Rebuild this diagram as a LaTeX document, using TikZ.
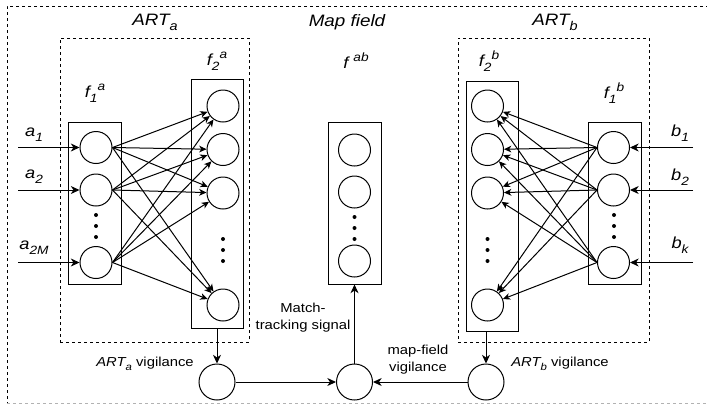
\documentclass[tikz,border=0pt]{standalone}
\usepackage{fontspec}
\setmainfont{Liberation Sans}[FakeStretch=1.14]
\usetikzlibrary{arrows.meta,fit}
% lowered / raised indices with an explicit size
\newcommand\lowidx[2]{\raisebox{-0.3em}{\fontsize{#1}{#1}\selectfont #2}}
\newcommand\highidx[2]{\raisebox{0.45em}{\fontsize{#1}{#1}\selectfont #2}}
\begin{document}
\begin{tikzpicture}[x=0.75pt,y=-0.75pt,
  line width=0.75pt,
  neuron/.style={circle,draw,inner sep=0pt,minimum size=24pt},
  gate/.style={circle,draw,inner sep=0pt,minimum size=27pt},
  layerbox/.style={draw,rectangle,inner sep=0pt},
  modbox/.style={draw,rectangle,inner sep=0pt,dash pattern=on 2.25pt off 2.25pt,line width=0.6pt},
  frameline/.style={dash pattern=on 2.25pt off 2.25pt,line width=0.6pt},
  dotmark/.style={circle,fill,inner sep=0pt,minimum size=3pt},
  link/.style={-{Stealth[length=5.5pt,width=5pt,inset=1.6pt]}},
  feed/.style={-{Stealth[length=6.5pt,width=6pt,inset=2pt]}},
  title/.style={font=\fontsize{12.4}{14}\selectfont\itshape},
  sym/.style={font=\fontsize{12}{14}\selectfont\itshape},
  note/.style={font=\fontsize{9.75}{12.75}\selectfont,align=center},
]
\useasboundingbox (0,0) rectangle (707,405);

% outer frame (open on the right)
\coordinate (otr) at (715,6);
\coordinate (otl) at (7,6);
\coordinate (obl) at (7,403);
\coordinate (obr) at (715,403);
\draw[frameline] (otr) -- (otl) -- (obl);
\draw[frameline,gray!60] (obl) -- (obr);

% module boxes
\node[modbox,fit={(60,38) (249,342)}] (arta) {};
\node[modbox,fit={(458,38) (649,342)}] (artb) {};

% layer boxes
\node[layerbox,fit={(68,122) (121,284)}] (f1abox) {};
\node[layerbox,fit={(191,79) (243,328)}] (f2abox) {};
\node[layerbox,fit={(328,122) (381,284)}] (fabbox) {};
\node[layerbox,fit={(466,81) (518,331)}] (f2bbox) {};
\node[layerbox,fit={(588,122) (641,284)}] (f1bbox) {};

% ART_a neurons
\node[neuron] (fa1) at (96,147.5) {};
\node[neuron] (fa2) at (96,190) {};
\node[neuron] (fa3) at (96,262.5) {};
\node[dotmark] (fad1) at (96,215) {};
\node[dotmark] (fad2) at (96,226) {};
\node[dotmark] (fad3) at (96,237) {};
\node[neuron] (ga1) at (223,106) {};
\node[neuron] (ga2) at (223,149.5) {};
\node[neuron] (ga3) at (223,193) {};
\node[neuron] (ga4) at (223,305) {};
\node[dotmark] (gad1) at (223,239) {};
\node[dotmark] (gad2) at (223,250) {};
\node[dotmark] (gad3) at (223,261) {};

% map field neurons
\node[neuron] (m1) at (354.5,150) {};
\node[neuron] (m2) at (354.5,192) {};
\node[neuron] (m3) at (354.5,261) {};
\node[dotmark] (md1) at (354.5,217) {};
\node[dotmark] (md2) at (354.5,228) {};
\node[dotmark] (md3) at (354.5,239) {};

% ART_b neurons
\node[neuron] (gb1) at (487.5,106) {};
\node[neuron] (gb2) at (487.5,149.5) {};
\node[neuron] (gb3) at (487.5,193) {};
\node[neuron] (gb4) at (487.5,305) {};
\node[dotmark] (gbd1) at (487.5,239) {};
\node[dotmark] (gbd2) at (487.5,250) {};
\node[dotmark] (gbd3) at (487.5,261) {};
\node[neuron] (fb1) at (613.5,147.5) {};
\node[neuron] (fb2) at (613.5,190) {};
\node[neuron] (fb3) at (613.5,262.5) {};
\node[dotmark] (fbd1) at (614,215) {};
\node[dotmark] (fbd2) at (614,226) {};
\node[dotmark] (fbd3) at (614,237) {};

% vigilance units
\node[gate] (va) at (217,382) {};
\node[gate] (vm) at (354.5,382) {};
\node[gate] (vb) at (486,382) {};

% full connections F1 -> F2
\foreach \i in {1,2,3}
  \foreach \j in {1,2,3,4} {
    \draw[link] (fa\i.east) -- (ga\j);
    \draw[link] (fb\i.west) -- (gb\j);
  }

% inputs
\coordinate (ina1) at (18,147.5);
\coordinate (ina2) at (18,190);
\coordinate (ina3) at (18,262.5);
\coordinate (inb1) at (693,147.5);
\coordinate (inb2) at (693,190);
\coordinate (inb3) at (693,262.5);
\draw[feed] (ina1) -- (fa1.west);
\draw[feed] (ina2) -- (fa2.west);
\draw[feed] (ina3) -- (fa3.west);
\draw[feed] (inb1) -- (fb1.east);
\draw[feed] (inb2) -- (fb2.east);
\draw[feed] (inb3) -- (fb3.east);

% vigilance / match tracking
\draw[feed] (f2abox.south) -- (va.north);
\draw[feed] (vb.north |- f2bbox.south) -- (vb.north);
\draw[feed] (va.east) -- (vm.west);
\draw[feed] (vb.west) -- (vm.east);
\draw[feed] (vm.north) -- (vm.north |- fabbox.south);

% labels
\node[title] (tarta) at (155,22) {ART\lowidx{9.5}{a}};
\node[title] (tmap) at (347,22) {Map field};
\node[title] (tartb) at (555,22) {ART\lowidx{9.5}{b}};
\node[sym] (lf1a) at (95,93) {f\lowidx{9}{1}\highidx{9}{a}};
\node[sym] (lf2a) at (217,61) {f\lowidx{9}{2}\highidx{9}{a}};
\node[sym] (lfab) at (356,61) {f \highidx{9}{ab}};
\node[sym] (lf2b) at (489,61) {f\lowidx{9}{2}\highidx{9}{b}};
\node[sym] (lf1b) at (614,93) {f\lowidx{9}{1}\highidx{9}{b}};
\node[sym] (la1) at (34,135) {a\lowidx{9}{1}};
\node[sym] (la2) at (34,177) {a\lowidx{9}{2}};
\node[sym] (la3) at (34,248) {a\lowidx{9}{2M}};
\node[sym] (lb1) at (680,133) {b\lowidx{9}{1}};
\node[sym] (lb2) at (680,177) {b\lowidx{9}{2}};
\node[sym] (lb3) at (680,245) {b\lowidx{9}{k}};
\node[note] (lva) at (145,364) {\textit{ART\lowidx{7.5}{a}} vigilance};
\node[note] (lvb) at (560,364) {\textit{ART\lowidx{7.5}{b}} vigilance};
\node[note] (lmt) at (303,318) {Match-\\tracking signal};
\node[note] (lmv) at (418,360) {map-field\\vigilance};
\end{tikzpicture}
\end{document}
